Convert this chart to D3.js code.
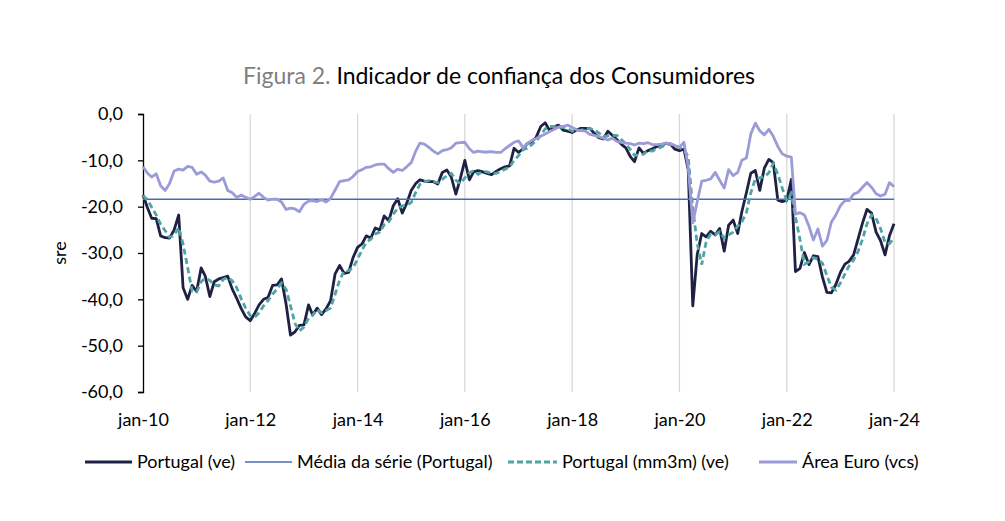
<!DOCTYPE html>
<html>
<head>
<meta charset="utf-8">
<script src="https://cdnjs.cloudflare.com/ajax/libs/d3/7.8.5/d3.min.js"></script>
<style>
  body { margin: 0; background: #fff; }
  text { font-family: Lato, "Open Sans", sans-serif; }
</style>
</head>
<body>
<div id="chart_area"></div>
<script>
// monthly series, jan-10 .. jan-24 (169 points)
var startMonth = new Date(2010, 0, 1);

var portugal = [
  -17.5, -20.3, -22.5, -22.6, -26.3, -26.7, -26.8, -25.0, -21.8, -37.5, -40.0, -37.0,
  -38.3, -33.2, -35.0, -39.4, -36.2, -35.6, -35.3, -35.0, -37.8, -39.8, -42.0, -43.8,
  -44.6, -43.0, -41.2, -40.0, -39.6, -37.0, -36.9, -35.6, -41.0, -47.7, -47.0, -45.6,
  -45.5, -41.2, -43.4, -41.9, -43.3, -42.0, -40.3, -34.5, -32.7, -34.4, -34.2, -31.0,
  -28.8, -28.0, -26.3, -26.8, -24.6, -25.0, -22.0, -23.0, -19.8, -18.3, -21.4, -19.3,
  -16.5, -15.0, -14.2, -14.5, -14.6, -14.6, -15.1, -12.6, -12.1, -13.6, -17.3, -14.0,
  -10.0, -14.2, -12.5, -12.2, -12.5, -12.8, -13.1, -12.4, -11.8, -11.4, -11.2, -7.4,
  -8.3, -7.5, -6.4, -6.0, -5.0, -2.7, -1.9, -3.6, -2.7, -2.4, -3.5, -3.7,
  -4.0, -3.4, -3.1, -3.1, -3.1, -4.2, -5.1, -5.4, -3.7, -4.6, -5.5, -6.5,
  -7.3, -9.2, -10.3, -7.3, -8.5, -7.9, -7.5, -7.0, -6.8, -6.3, -6.5, -7.6,
  -7.9, -7.6, -12.0, -41.4, -30.4, -25.8, -26.5, -25.3, -26.1, -24.7, -29.6, -24.0,
  -22.9, -25.8, -21.1, -17.0, -12.8, -12.2, -16.5, -11.7, -9.8, -10.5, -18.6, -18.9,
  -18.6, -14.1, -34.0, -33.3, -29.9, -32.5, -30.6, -30.8, -35.2, -38.5, -38.6, -36.8,
  -34.2, -32.4, -31.8, -30.4, -27.0, -23.5, -20.6, -21.4, -25.5, -27.3, -30.4, -26.3,
  -23.7
];

var portugalMm3m = [
  -17.6, -18.6, -20.1, -21.8, -23.8, -25.2, -26.6, -26.2, -24.5, -28.1, -33.1, -38.2,
  -38.4, -36.2, -35.5, -35.9, -36.9, -37.1, -35.7, -35.3, -36.0, -37.5, -39.9, -41.9,
  -43.5, -43.8, -42.9, -41.4, -40.3, -38.9, -37.8, -36.5, -37.8, -41.4, -45.2, -46.8,
  -46.0, -44.1, -43.4, -42.2, -42.9, -42.4, -41.9, -38.9, -35.8, -33.9, -33.8, -33.2,
  -31.3, -29.3, -27.7, -27.0, -25.9, -25.5, -23.9, -23.3, -21.6, -20.4, -19.8, -19.7,
  -19.1, -16.9, -15.2, -14.6, -14.4, -14.6, -14.8, -14.1, -13.3, -12.8, -14.3, -15.0,
  -13.8, -12.7, -12.2, -13.0, -12.4, -12.5, -12.8, -12.8, -12.4, -11.9, -11.5, -10.0,
  -9.0, -7.7, -7.4, -6.6, -5.8, -4.6, -3.2, -2.7, -2.7, -2.9, -2.9, -3.2,
  -3.7, -3.7, -3.5, -3.2, -3.1, -3.5, -4.1, -4.9, -4.7, -4.6, -4.6, -5.5,
  -6.4, -7.7, -8.9, -8.9, -8.7, -7.9, -8.0, -7.5, -7.1, -6.7, -6.5, -6.8,
  -7.3, -7.7, -9.2, -20.3, -27.9, -32.5, -27.6, -25.9, -26.0, -25.4, -26.8, -26.1,
  -25.5, -24.2, -23.3, -21.3, -17.0, -14.0, -13.8, -13.5, -12.7, -10.7, -13.0, -16.0,
  -18.7, -17.2, -22.2, -27.1, -32.4, -31.9, -31.0, -31.3, -32.2, -34.8, -37.4, -38.0,
  -36.5, -34.5, -32.8, -31.5, -29.7, -27.0, -23.7, -21.8, -22.5, -24.7, -27.7, -28.0,
  -26.8
];

var euroArea = [
  -11.4, -12.8, -13.6, -12.9, -15.5, -16.5, -15.0, -12.3, -11.9, -12.1, -11.3, -11.5,
  -13.0, -12.5, -13.2, -14.5, -14.7, -14.5, -13.8, -16.5, -17.0, -18.0, -17.5, -18.0,
  -18.4, -17.8, -17.1, -18.0, -18.6, -18.4, -18.4, -19.0, -20.6, -20.3, -20.5, -21.1,
  -19.5, -18.8, -18.7, -18.9, -18.5, -19.0, -18.2, -16.4, -14.6, -14.4, -14.2, -13.5,
  -12.4, -12.0, -11.5, -11.4, -11.0, -10.8, -10.8, -11.8, -12.6, -11.9, -12.2, -11.4,
  -10.5, -8.0, -6.3, -6.5, -7.2, -8.0, -8.6, -7.9, -7.7, -7.3, -6.3, -6.2,
  -6.1, -7.5, -8.3, -8.0, -8.2, -8.2, -8.1, -8.3, -8.3, -7.5, -6.8, -6.1,
  -5.8, -7.3, -6.4, -5.7, -5.3, -4.8, -4.3, -3.8, -3.3, -2.8, -2.7, -2.4,
  -2.9, -3.4, -3.6, -3.7, -4.4, -4.6, -4.9, -5.2, -5.6, -5.2, -5.9, -6.1,
  -6.3, -6.4, -6.7, -6.3, -6.4, -6.2, -6.6, -6.6, -6.5, -6.3, -6.4, -6.8,
  -7.2, -6.1, -11.5, -23.5, -19.0, -14.5, -14.3, -14.0, -12.6, -14.3, -16.0, -12.0,
  -13.3, -12.6, -10.0, -9.5, -4.3, -2.0, -3.6, -4.5, -3.3, -4.8, -7.0, -8.6,
  -9.1, -9.3, -21.6, -21.3, -21.8, -24.2, -27.2, -24.8, -28.5, -27.3, -23.3, -21.8,
  -19.8, -18.7, -18.7, -17.3, -16.9, -15.8, -14.8, -15.8, -17.2, -17.7, -17.3, -14.8,
  -15.7
];

var serieMean = -18.4;   // média da série (Portugal)

var yTicks = [0, -10, -20, -30, -40, -50, -60];
var xTickYears = [2010, 2012, 2014, 2016, 2018, 2020, 2022, 2024];
var legendNames = ["Portugal (ve)", "Média da série (Portugal)", "Portugal (mm3m) (ve)", "Área Euro (vcs)"];

var W = 1005, H = 521;
var margin = {top: 114, right: 111, bottom: 129, left: 143};
var width = W - margin.left - margin.right;
var height = H - margin.top - margin.bottom;

var months = portugal.map((d, i) => d3.timeMonth.offset(startMonth, i));

var svg = d3.select("#chart_area").append("svg").attr("width", W).attr("height", H);

// title
var title = svg.append("text").attr("x", 499).attr("y", 84).attr("text-anchor", "middle").style("font-size", "23px");
title.append("tspan").attr("fill", "#7f7f7f").text("Figura 2. ");
title.append("tspan").attr("fill", "#000").text("Indicador de confiança dos Consumidores");

var g = svg.append("g").attr("transform", "translate(" + margin.left + "," + margin.top + ")");

var x = d3.scaleTime().domain([months[0], months[months.length - 1]]).range([0, width]);
var y = d3.scaleLinear().domain([-60, 0]).range([height, 0]);

var locale = d3.formatLocale({decimal: ",", thousands: ".", grouping: [3], currency: ["", "€"], minus: "-"});
var fmt = locale.format(".1f");

// vertical grid lines
g.append("g").selectAll("line").data(xTickYears.slice(1)).join("line")
  .attr("x1", d => x(new Date(d, 0, 1))).attr("x2", d => x(new Date(d, 0, 1)))
  .attr("y1", 0).attr("y2", height)
  .attr("stroke", "#d9d9d9").attr("stroke-width", 1.3);

// x labels (no axis line)
var xAxis = g.append("g").attr("transform", "translate(0," + height + ")")
  .call(d3.axisBottom(x).tickValues(xTickYears.map(d => new Date(d, 0, 1)))
    .tickFormat(d => "jan-" + d3.timeFormat("%y")(d)).tickSize(0).tickPadding(21));
xAxis.select(".domain").remove();
xAxis.selectAll("text").style("font-size", "18px").attr("fill", "#000").style("font-family", "Lato, sans-serif");

// y axis
var yAxis = g.append("g").call(d3.axisLeft(y).tickValues(yTicks).tickFormat(fmt).tickSize(5).tickSizeOuter(5).tickPadding(15));
yAxis.select(".domain").attr("stroke", "#000").attr("stroke-width", 1.3);
yAxis.selectAll(".tick line").attr("stroke", "#000").attr("stroke-width", 1.3);
yAxis.selectAll("text").style("font-size", "18px").attr("fill", "#000").style("font-family", "Lato, sans-serif");

svg.append("text").attr("transform", "translate(66," + (margin.top + height / 2) + ") rotate(-90)")
  .attr("text-anchor", "middle").style("font-size", "18px").text("sre");

var line = d3.line().x((d, i) => x(months[i])).y(d => y(d));

var colPt = "#1f2144", colMean = "#4a68b3", colMm = "#4fa4a6", colEuro = "#9b9bd8";

g.append("path").datum(portugal).attr("d", line).attr("fill", "none")
  .attr("stroke", colPt).attr("stroke-width", 2.8).attr("stroke-linejoin", "round");

g.append("line").attr("x1", x(months[0])).attr("x2", x(months[months.length - 1]))
  .attr("y1", y(serieMean)).attr("y2", y(serieMean))
  .attr("stroke", colMean).attr("stroke-width", 1.6);

g.append("path").datum(portugalMm3m).attr("d", line).attr("fill", "none")
  .attr("stroke", colMm).attr("stroke-width", 2.8).attr("stroke-dasharray", "6,3.5");

g.append("path").datum(euroArea).attr("d", line).attr("fill", "none")
  .attr("stroke", colEuro).attr("stroke-width", 2.8).attr("stroke-linejoin", "round");

// legend
var legendItems = [
  {x: 85, w: 47, color: colPt, sw: 2.8, dash: null},
  {x: 245, w: 47, color: colMean, sw: 1.6, dash: null},
  {x: 508, w: 49, color: colMm, sw: 2.8, dash: "6,3"},
  {x: 759, w: 38, color: colEuro, sw: 2.8, dash: null}
];
var lg = svg.append("g").attr("transform", "translate(0,462)");
legendItems.forEach((d, i) => {
  lg.append("line").attr("x1", d.x).attr("x2", d.x + d.w).attr("y1", 0).attr("y2", 0)
    .attr("stroke", d.color).attr("stroke-width", d.sw).attr("stroke-dasharray", d.dash);
  lg.append("text").attr("x", d.x + d.w + 5).attr("y", 6).style("font-size", "18px").text(legendNames[i]);
});
</script>
</body>
</html>
